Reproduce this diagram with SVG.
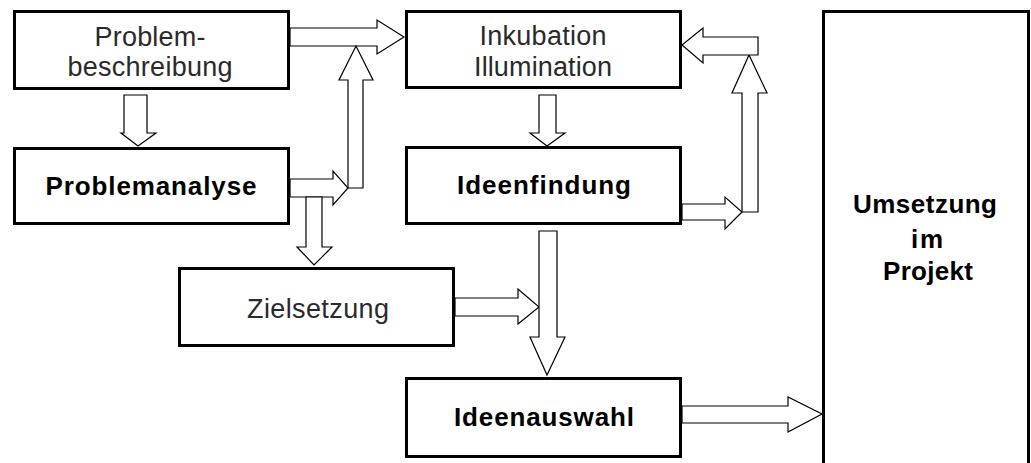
<svg xmlns="http://www.w3.org/2000/svg" width="1031" height="463" viewBox="0 0 1031 463">
  <style>
    .box { fill: #ffffff; stroke: #000000; stroke-width: 3; }
    .arrow { fill: #ffffff; stroke: #000000; stroke-width: 1.2; stroke-linejoin: miter; }
    .light { font-family: "Liberation Sans", Arial, sans-serif; font-size: 27px; fill: #2a2a2a; text-anchor: middle; }
    .bold { font-family: "Liberation Sans", Arial, sans-serif; font-size: 26px; font-weight: bold; fill: #000000; text-anchor: middle; }
  </style>
  <rect x="0" y="0" width="1031" height="463" fill="#ffffff"/>

  <!-- block arrows -->
  <g id="connectors">
    <!-- Problembeschreibung to Inkubation -->
    <polygon class="arrow" points="290,28 377,28 377,20 404,37 377,54 377,46 290,46"/>
    <!-- Problembeschreibung down to Problemanalyse -->
    <polygon class="arrow" points="124,95 147,95 147,133 156,133 138,146 121,133 124,133"/>
    <!-- Problemanalyse right -->
    <polygon class="arrow" points="290,179 333,179 333,171 348,188 333,205 333,197 290,197"/>
    <!-- riser up to the top arrow -->
    <polygon class="arrow" points="348,188 363,188 363,80 373,80 356,46 339,80 348,80"/>
    <!-- Problemanalyse down to Zielsetzung -->
    <polygon class="arrow" points="306,197 306,247 297,247 314,265 332,247 322,247 322,197"/>
    <!-- Inkubation down to Ideenfindung -->
    <polygon class="arrow" points="539,95 556,95 556,133 565,133 547,146 530,133 539,133"/>
    <!-- Ideenfindung right -->
    <polygon class="arrow" points="682,204 725,204 725,197 742,212 725,229 725,220 682,220"/>
    <!-- riser on the right -->
    <polygon class="arrow" points="742,212 758,212 758,93 767,93 749,55 732,93 742,93"/>
    <!-- return into Inkubation -->
    <polygon class="arrow" points="758,37 758,55 703,55 703,63 682,45 703,28 703,37"/>
    <!-- Zielsetzung right -->
    <polygon class="arrow" points="455,298 518,298 518,289 539,307 518,324 518,316 455,316"/>
    <!-- Ideenfindung down to Ideenauswahl -->
    <polygon class="arrow" points="539,231 557,231 557,337 565,337 547,375 530,337 539,337"/>
    <!-- Ideenauswahl to Umsetzung -->
    <polygon class="arrow" points="682,406 788,406 788,397 822,414 788,432 788,423 682,423"/>
  </g>

  <g id="problembeschreibung">
    <rect class="box" x="14.5" y="11.5" width="274" height="77"/>
    <text class="light" x="150" y="46" textLength="111">Problem-</text>
    <text class="light" x="150" y="76" textLength="165">beschreibung</text>
  </g>

  <g id="problemanalyse">
    <rect class="box" x="14.5" y="148.5" width="274" height="75"/>
    <text class="bold" x="151" y="195" textLength="211">Problemanalyse</text>
  </g>

  <g id="zielsetzung">
    <rect class="box" x="179.5" y="268.5" width="274" height="77"/>
    <text class="light" x="318" y="318" textLength="142">Zielsetzung</text>
  </g>

  <g id="inkubation">
    <rect class="box" x="406.5" y="11.5" width="274" height="76"/>
    <text class="light" x="543" y="45" textLength="127">Inkubation</text>
    <text class="light" x="543" y="76" textLength="138">Illumination</text>
  </g>

  <g id="ideenfindung">
    <rect class="box" x="406.5" y="147.5" width="274" height="76"/>
    <text class="bold" x="544" y="194" textLength="174">Ideenfindung</text>
  </g>

  <g id="ideenauswahl">
    <rect class="box" x="406.5" y="378.5" width="274" height="78"/>
    <text class="bold" x="544" y="426" textLength="180">Ideenauswahl</text>
  </g>

  <g id="umsetzung">
    <rect class="box" x="823.5" y="11.5" width="205" height="470"/>
    <text class="bold" x="925" y="213" textLength="144">Umsetzung</text>
    <text class="bold" x="927" y="248" textLength="32">im</text>
    <text class="bold" x="928" y="280" textLength="90">Projekt</text>
  </g>
</svg>
